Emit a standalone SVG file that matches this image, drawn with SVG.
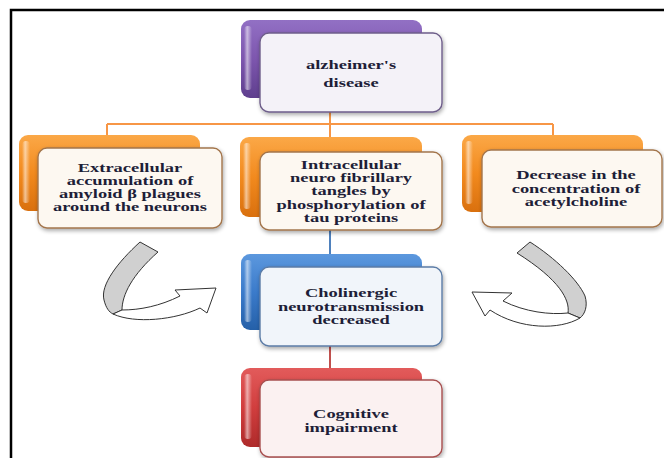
<svg xmlns="http://www.w3.org/2000/svg" width="664" height="458" viewBox="0 0 664 458">
  <defs>
    <linearGradient id="gPurple" x1="0" y1="0" x2="0" y2="1">
      <stop offset="0" stop-color="#9270C4"/>
      <stop offset="0.5" stop-color="#7D56AE"/>
      <stop offset="1" stop-color="#5F3F8E"/>
    </linearGradient>
    <linearGradient id="gOrange" x1="0" y1="0" x2="0" y2="1">
      <stop offset="0" stop-color="#FBA847"/>
      <stop offset="0.5" stop-color="#F28A1E"/>
      <stop offset="1" stop-color="#D9700E"/>
    </linearGradient>
    <linearGradient id="gBlue" x1="0" y1="0" x2="0" y2="1">
      <stop offset="0" stop-color="#5C98DE"/>
      <stop offset="0.5" stop-color="#3B7BCB"/>
      <stop offset="1" stop-color="#2560A8"/>
    </linearGradient>
    <linearGradient id="gRed" x1="0" y1="0" x2="0" y2="1">
      <stop offset="0" stop-color="#E25B5B"/>
      <stop offset="0.5" stop-color="#D13E3E"/>
      <stop offset="1" stop-color="#AE2A2A"/>
    </linearGradient>
    <linearGradient id="gSheen" x1="0" y1="0" x2="1" y2="0">
      <stop offset="0" stop-color="#FFFFFF" stop-opacity="0"/>
      <stop offset="0.4" stop-color="#FFFFFF" stop-opacity="0.55"/>
      <stop offset="1" stop-color="#FFFFFF" stop-opacity="0"/>
    </linearGradient>
    <filter id="shadow" x="-10%" y="-10%" width="125%" height="130%">
      <feGaussianBlur in="SourceAlpha" stdDeviation="2"/>
      <feOffset dx="1" dy="2" result="b"/>
      <feComponentTransfer><feFuncA type="linear" slope="0.35"/></feComponentTransfer>
      <feMerge><feMergeNode/><feMergeNode in="SourceGraphic"/></feMerge>
    </filter>
  </defs>
  <style>
    .frame { stroke: #000; stroke-width: 2.5; fill: none; }
    .back { stroke: none; }
    .front { stroke-width: 1.4; filter: url(#shadow); }
    .sheen { fill: url(#gSheen); }
    .pf { fill: #F4F2F8; stroke: #6E5E8A; }
    .of { fill: #FDF8F1; stroke: #A3754C; }
    .bf { fill: #F1F5FA; stroke: #5C7CA6; }
    .rf { fill: #FBF1F1; stroke: #A85050; }
    .lbl { font-family: "Liberation Serif", "Times New Roman", serif; font-size: 13px; font-weight: bold; fill: #1E1E38; text-anchor: middle; }
    .c-o { stroke: #F79646; stroke-width: 2; fill: none; }
    .c-b { stroke: #4F81BD; stroke-width: 2; fill: none; }
    .c-r { stroke: #C0504D; stroke-width: 2; fill: none; }
    .band { fill: #D0D0D0; stroke: #333; stroke-width: 1; stroke-linejoin: round; }
    .arrowbody { fill: #FFFFFF; stroke: #333; stroke-width: 1; stroke-linejoin: round; }
  </style>

  <rect width="664" height="458" fill="#FFFFFF"/>

  <!-- page frame: top and left rules -->
  <path class="frame" d="M11 458 V10 H664"/>

  <!-- connectors -->
  <g id="connectors">
    <path class="c-o" d="M330 100 V124 M107 124 H553 M107 124 V136 M330 124 V138 M553 124 V136"/>
    <path class="c-b" d="M330 228 V255"/>
    <path class="c-r" d="M330 344 V369"/>
  </g>

  <!-- feedback arrows -->
  <g id="arrow-left">
    <path class="band" d="M140 242 C118 262 100 285 104 300 C106 308 109 312 113 314 L122 310 C122 295 132 275 158 252 Z"/>
    <path class="arrowbody" d="M113 314 C135 324 175 320 200 308 L207 313 L216 288 L175 290 L180 296 C160 306 140 310 122 310 Z"/>
  </g>
  <g id="arrow-right">
    <path class="band" d="M530 242 C555 258 578 280 585 296 C588 306 585 314 580 318 L568 313 C570 300 560 280 517 253 Z"/>
    <path class="arrowbody" d="M580 318 C560 330 520 330 490 310 L485 316 L472 292 L512 293 L503 301 C525 312 550 315 568 313 Z"/>
  </g>

  <!-- cause node -->
  <g id="node-disease">
    <rect class="back" x="241" y="20" width="181" height="78" rx="9" fill="url(#gPurple)"/>
    <rect class="sheen" x="244" y="26" width="8" height="64" rx="4"/>
    <rect class="front pf" x="260" y="33" width="182" height="79" rx="9"/>
    <text class="lbl" transform="translate(351 0) scale(1.42 1)"><tspan x="0" y="69">alzheimer's</tspan><tspan x="0" y="87">disease</tspan></text>
  </g>

  <g id="node-amyloid">
    <rect class="back" x="19" y="135" width="181" height="76" rx="9" fill="url(#gOrange)"/>
    <rect class="sheen" x="22" y="141" width="8" height="62" rx="4"/>
    <rect class="front of" x="38" y="148" width="184" height="80" rx="9"/>
    <text class="lbl" transform="translate(130 0) scale(1.42 1)"><tspan x="0" y="172">Extracellular</tspan><tspan x="0" y="185">accumulation of</tspan><tspan x="0" y="198">amyloid β plagues</tspan><tspan x="0" y="211">around the neurons</tspan></text>
  </g>

  <g id="node-tangles">
    <rect class="back" x="240" y="137" width="182" height="80" rx="9" fill="url(#gOrange)"/>
    <rect class="sheen" x="243" y="143" width="8" height="66" rx="4"/>
    <rect class="front of" x="260" y="152" width="182" height="78" rx="9"/>
    <text class="lbl" transform="translate(351 0) scale(1.42 1)"><tspan x="0" y="169">Intracellular</tspan><tspan x="0" y="182">neuro fibrillary</tspan><tspan x="0" y="195">tangles by</tspan><tspan x="0" y="209">phosphorylation of</tspan><tspan x="0" y="222">tau proteins</tspan></text>
  </g>

  <g id="node-acetylcholine">
    <rect class="back" x="462" y="135" width="181" height="77" rx="9" fill="url(#gOrange)"/>
    <rect class="sheen" x="465" y="141" width="8" height="63" rx="4"/>
    <rect class="front of" x="482" y="150" width="180" height="77" rx="9"/>
    <text class="lbl" transform="translate(576 0) scale(1.42 1)"><tspan x="0" y="179">Decrease in the</tspan><tspan x="0" y="193">concentration of</tspan><tspan x="0" y="206">acetylcholine</tspan></text>
  </g>

  <!-- effect nodes -->
  <g id="node-cholinergic">
    <rect class="back" x="241" y="254" width="181" height="76" rx="9" fill="url(#gBlue)"/>
    <rect class="sheen" x="244" y="260" width="8" height="62" rx="4"/>
    <rect class="front bf" x="260" y="267" width="182" height="79" rx="9"/>
    <text class="lbl" transform="translate(351 0) scale(1.42 1)"><tspan x="0" y="297">Cholinergic</tspan><tspan x="0" y="311">neurotransmission</tspan><tspan x="0" y="324">decreased</tspan></text>
  </g>

  <g id="node-cognitive">
    <rect class="back" x="241" y="368" width="181" height="79" rx="9" fill="url(#gRed)"/>
    <rect class="sheen" x="244" y="374" width="8" height="65" rx="4"/>
    <rect class="front rf" x="260" y="380" width="182" height="77" rx="9"/>
    <text class="lbl" transform="translate(351 0) scale(1.42 1)"><tspan x="0" y="418">Cognitive</tspan><tspan x="0" y="432">impairment</tspan></text>
  </g>
</svg>
